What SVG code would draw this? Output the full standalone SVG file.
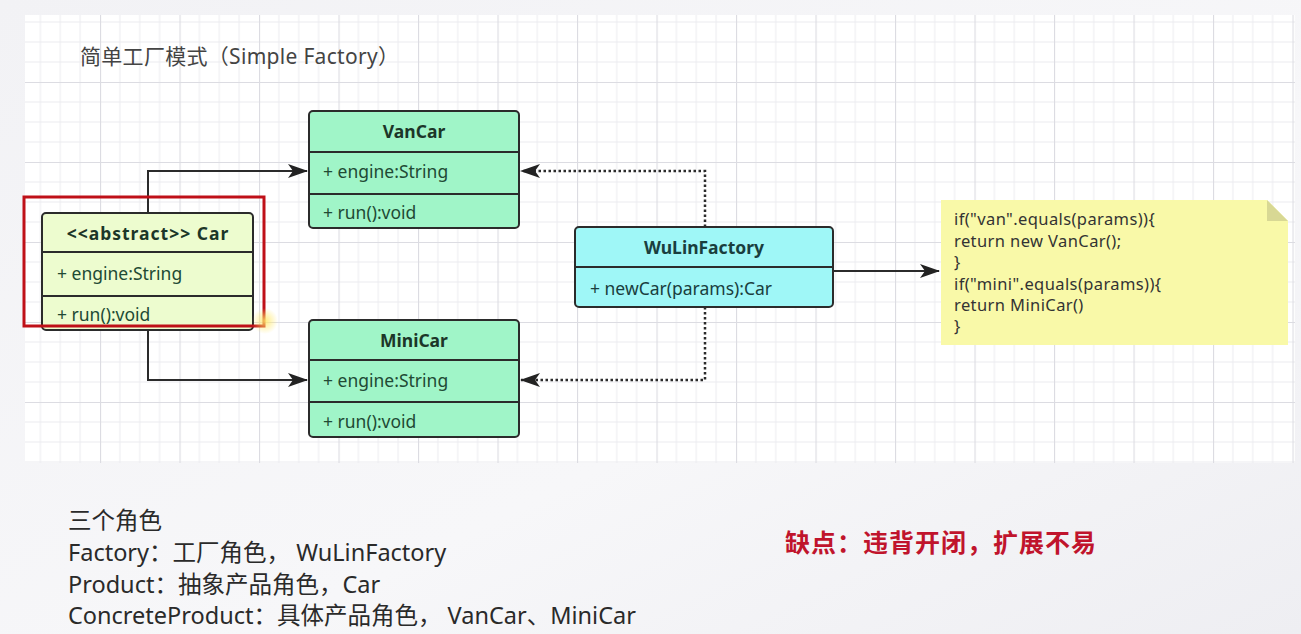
<svg xmlns="http://www.w3.org/2000/svg" width="1301" height="634" viewBox="0 0 1301 634">
  <defs>
    <linearGradient id="bg" x1="0" y1="0" x2="1" y2="1">
      <stop offset="0" stop-color="#f2f2f5"/>
      <stop offset="0.6" stop-color="#f7f7f9"/>
      <stop offset="1" stop-color="#eeeef2"/>
    </linearGradient>
    <pattern id="grid" patternUnits="userSpaceOnUse" x="100" y="2" width="79.5" height="80">
      <rect width="79.5" height="80" fill="#ffffff"/>
      <g stroke="#ebebef" stroke-width="1">
        <line x1="19.875" y1="0" x2="19.875" y2="80"/>
        <line x1="39.75" y1="0" x2="39.75" y2="80"/>
        <line x1="59.625" y1="0" x2="59.625" y2="80"/>
        <line x1="0" y1="20" x2="79.5" y2="20"/>
        <line x1="0" y1="40" x2="79.5" y2="40"/>
        <line x1="0" y1="60" x2="79.5" y2="60"/>
      </g>
      <g stroke="#dcdce2" stroke-width="1.2">
        <line x1="0.5" y1="0" x2="0.5" y2="80"/>
        <line x1="0" y1="0.5" x2="79.5" y2="0.5"/>
      </g>
    </pattern>
    <marker id="arrow" viewBox="0 0 20 14" refX="19" refY="7" markerWidth="20" markerHeight="14" markerUnits="userSpaceOnUse" orient="auto">
      <path d="M0,0 L20,7 L0,14 L5,7 Z" fill="#222"/>
    </marker>
    <radialGradient id="glow">
      <stop offset="0" stop-color="#ffe96a" stop-opacity="0.85"/>
      <stop offset="1" stop-color="#ffe96a" stop-opacity="0"/>
    </radialGradient>
  </defs>
  <style>
    .box { stroke: #2b2b2b; stroke-width: 2; }
    .div { stroke: #2b2b2b; stroke-width: 2; }
    .green { fill: #a0f5c8; }
    .car { fill: #edfccf; }
    .cyan { fill: #9ff7f7; }
    .ttl { font-family: "Noto Sans", "Noto Sans CJK SC", sans-serif; font-size: 17.5px; font-weight: bold; fill: #1c3628; text-anchor: middle; }
    .mem { font-family: "Noto Sans", "Noto Sans CJK SC", sans-serif; font-size: 17.5px; fill: #214a34; }
    .fac { fill: #1a3e3e; }
    .conn { fill: none; stroke: #2b2b2b; stroke-width: 2; }
    .dot { stroke-width: 2.5; stroke-dasharray: 2.5 2.5; }
    .note { font-family: "Noto Sans", "Noto Sans CJK SC", sans-serif; font-size: 16.5px; letter-spacing: 0.4px; fill: #333; }
    .body { font-family: "Noto Sans", "Noto Sans CJK SC", sans-serif; font-size: 23.5px; fill: #2a2a2a; }
  </style>

  <!-- background -->
  <rect x="0" y="0" width="1301" height="634" fill="url(#bg)"/>
  <rect x="25" y="15" width="1270" height="448" fill="url(#grid)"/>

  <!-- title -->
  <text x="80" y="64" font-family="Noto Sans, Noto Sans CJK SC, sans-serif" font-size="21" letter-spacing="0.3" fill="#444">简单工厂模式（Simple Factory）</text>

  <!-- connectors -->
  <g id="connectors">
    <polyline class="conn" points="148,213 148,171 307,171" marker-end="url(#arrow)"/>
    <polyline class="conn" points="148,330 148,380 307,380" marker-end="url(#arrow)"/>
    <polyline class="conn dot" points="705,227 705,171 521,171" marker-end="url(#arrow)"/>
    <polyline class="conn dot" points="705,307 705,380 521,380" marker-end="url(#arrow)"/>
    <line class="conn" x1="833" y1="271" x2="939" y2="271" marker-end="url(#arrow)"/>
  </g>

  <!-- VanCar -->
  <g id="VanCar">
    <rect class="box green" x="309" y="111" width="210" height="117" rx="4"/>
    <line class="div" x1="309" y1="152" x2="519" y2="152"/>
    <line class="div" x1="309" y1="194" x2="519" y2="194"/>
    <text class="ttl" x="414" y="138">VanCar</text>
    <text class="mem" x="323" y="178">+ engine:String</text>
    <text class="mem" x="323" y="219">+ run():void</text>
  </g>

  <!-- MiniCar -->
  <g id="MiniCar">
    <rect class="box green" x="309" y="320" width="210" height="117" rx="4"/>
    <line class="div" x1="309" y1="360" x2="519" y2="360"/>
    <line class="div" x1="309" y1="402" x2="519" y2="402"/>
    <text class="ttl" x="414" y="347">MiniCar</text>
    <text class="mem" x="323" y="387">+ engine:String</text>
    <text class="mem" x="323" y="428">+ run():void</text>
  </g>

  <!-- Car -->
  <g id="Car">
    <rect class="box car" x="42" y="213" width="211" height="117" rx="4"/>
    <line class="div" x1="42" y1="252" x2="253" y2="252"/>
    <line class="div" x1="42" y1="296" x2="253" y2="296"/>
    <text class="ttl" x="148" y="240" letter-spacing="1">&lt;&lt;abstract&gt;&gt; Car</text>
    <text class="mem" x="57" y="280">+ engine:String</text>
    <text class="mem" x="57" y="321">+ run():void</text>
  </g>

  <!-- highlight -->
  <g id="highlight">
    <rect x="24" y="197" width="240" height="129" fill="none" stroke="#bf1018" stroke-width="3"/>
    <circle cx="265" cy="321" r="13" fill="url(#glow)"/>
  </g>

  <!-- WuLinFactory -->
  <g id="WuLinFactory">
    <rect class="box cyan" x="575" y="227" width="258" height="80" rx="4"/>
    <line class="div" x1="575" y1="267" x2="833" y2="267"/>
    <text class="ttl fac" x="704" y="254">WuLinFactory</text>
    <text class="mem fac" x="590" y="295">+ newCar(params):Car</text>
  </g>

  <!-- Note -->
  <g id="Note">
    <path d="M941,200 L1267,200 L1288,221 L1288,345 L941,345 Z" fill="#f9f9a8"/>
    <path d="M1267,200 L1288,221 L1267,221 Z" fill="#d8d894"/>
    <text class="note" x="954" y="225">if("van".equals(params)){</text>
    <text class="note" x="954" y="247">return new VanCar();</text>
    <text class="note" x="954" y="268">}</text>
    <text class="note" x="954" y="290">if("mini".equals(params)){</text>
    <text class="note" x="954" y="311">return MiniCar()</text>
    <text class="note" x="954" y="332">}</text>
  </g>

  <!-- bottom text -->
  <g id="roles">
    <text class="body" x="68" y="529">三个角色</text>
    <text class="body" x="68" y="561">Factory：工厂角色， WuLinFactory</text>
    <text class="body" x="68" y="593">Product：抽象产品角色，Car</text>
    <text class="body" x="68" y="624">ConcreteProduct：具体产品角色， VanCar、MiniCar</text>
  </g>
  <text x="785" y="552" font-family="Noto Sans CJK SC, sans-serif" font-size="25" font-weight="bold" letter-spacing="1" fill="#c0142c">缺点：违背开闭，扩展不易</text>
</svg>
